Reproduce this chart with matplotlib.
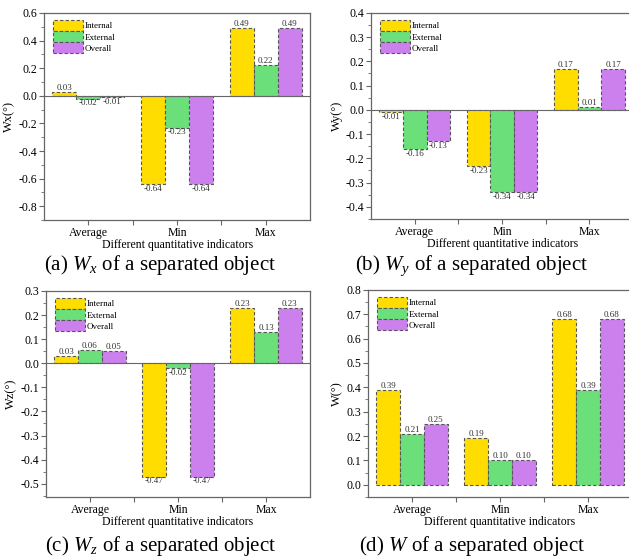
import matplotlib
matplotlib.use("Agg")
import matplotlib.pyplot as plt
import numpy as np

plt.rcParams['font.family'] = ['Liberation Serif', 'DejaVu Serif']
plt.rcParams['mathtext.fontset'] = 'custom'
plt.rcParams['mathtext.rm'] = 'Liberation Serif'
plt.rcParams['mathtext.it'] = 'Liberation Serif:italic'
plt.rcParams['axes.unicode_minus'] = False

categories = ["Average", "Min", "Max"]
series_names = ["Internal", "External", "Overall"]

wx_internal = [0.03, -0.64, 0.49]
wx_external = [-0.02, -0.23, 0.22]
wx_overall = [-0.01, -0.64, 0.49]

wy_internal = [-0.01, -0.23, 0.17]
wy_external = [-0.16, -0.34, 0.01]
wy_overall = [-0.13, -0.34, 0.17]

wz_internal = [0.03, -0.47, 0.23]
wz_external = [0.056, -0.02, 0.13]
wz_overall = [0.05, -0.47, 0.23]

w_internal = [0.39, 0.19, 0.68]
w_external = [0.21, 0.10, 0.39]
w_overall = [0.25, 0.10, 0.68]

colors = ["#FFDD00", "#6BE07A", "#CC80EE"]
edge = "#555555"
grey = "#666666"

fig = plt.figure(figsize=(6.29, 5.6), dpi=100)

panels = [
    dict(rect=[0.070, 0.607, 0.423, 0.370], data=[wx_internal, wx_external, wx_overall],
         ylim=(-0.8, 0.6), step=0.2, ylabel="Wx(°)", zero=True,
         caption=r"(a) $\mathit{W}_x$ of a separated object", cap=(0.255, 0.518)),
    dict(rect=[0.590, 0.609, 0.4165, 0.368], data=[wy_internal, wy_external, wy_overall],
         ylim=(-0.4, 0.4), step=0.1, ylabel="Wy(°)", zero=True,
         caption=r"(b) $\mathit{W}_y$ of a separated object", cap=(0.750, 0.518)),
    dict(rect=[0.073, 0.1125, 0.420, 0.368], data=[wz_internal, wz_external, wz_overall],
         ylim=(-0.555, 0.3), step=0.1, ylabel="Wz(°)", zero=True,
         caption=r"(c) $\mathit{W}_z$ of a separated object", cap=(0.255, 0.016)),
    dict(rect=[0.585, 0.1125, 0.42, 0.370], data=[w_internal, w_external, w_overall],
         ylim=(0.0, 0.8), step=0.1, ylabel="W(°)", zero=False,
         caption=r"(d) $\mathit{W}$ of a separated object", cap=(0.750, 0.016)),
]

x = np.arange(1, len(categories) + 1)
bw = 0.27

for p in panels:
    ax = fig.add_axes(p["rect"])
    for i, (vals, name, c) in enumerate(zip(p["data"], series_names, colors)):
        pos = x + (i - 1) * bw
        ax.bar(pos, vals, width=bw, color=c, edgecolor=edge, linewidth=0.8,
               linestyle=(0, (3, 2)), label=name, zorder=2)
        for xp, v in zip(pos, vals):
            if v >= 0:
                ax.text(xp, v, f"{v:.2f}", ha="center", va="bottom", fontsize=6.5, color="#333333")
            else:
                ax.text(xp, v - 0.004, f"{v:.2f}", ha="center", va="top", fontsize=6.5, color="#333333")
    if p["zero"]:
        ax.axhline(0, color=grey, lw=0.8, zorder=3)
    ax.set_xlim(0.5, 3.5)
    ax.set_ylim(*p["ylim"])
    lo, hi = p["ylim"]
    st = p["step"]
    start = np.ceil(lo / st - 1e-9) * st
    ticks = np.arange(start, hi + 1e-9, st)
    ax.set_yticks(ticks)
    ax.set_yticklabels([f"{t:.1f}" if abs(t) > 1e-9 else "0.0" for t in ticks])
    ax.set_yticks(np.arange(start - st / 2, hi + 1e-9, st / 2), minor=True)
    ax.set_xticks([1, 1.5, 2, 2.5, 3])
    ax.set_xticklabels(["Average", "", "Min", "", "Max"])
    ax.tick_params(axis="both", which="major", direction="out", length=3.5, width=0.8,
                   color=grey, labelsize=8.5, pad=1.5)
    ax.tick_params(axis="y", which="minor", direction="out", length=2, width=0.6, color=grey)
    for s in ax.spines.values():
        s.set_color(grey)
        s.set_linewidth(0.9)
    ax.set_xlabel("Different quantitative indicators", fontsize=8.5, labelpad=0)
    ax.set_ylabel(p["ylabel"], fontsize=9, labelpad=2)
    leg = ax.legend(loc="upper left", bbox_to_anchor=(0.035, 0.965), frameon=False,
                    fontsize=6.5, handlelength=3.3, handleheight=1.45, labelspacing=0.05,
                    handletextpad=0.15, borderpad=0, borderaxespad=0)
    fig.text(p["cap"][0], p["cap"][1], p["caption"], ha="center", va="baseline", fontsize=15)

fig.savefig("out.png", dpi=100)
